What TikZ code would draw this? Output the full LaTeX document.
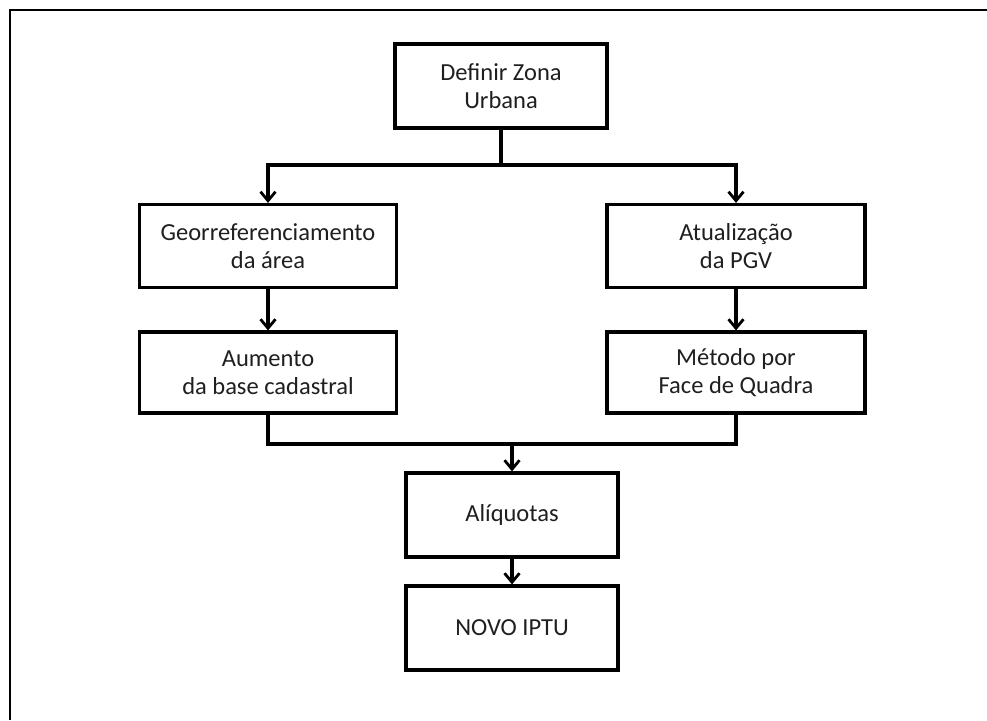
\documentclass[tikz,border=0pt]{standalone}
\usepackage{fontspec}
\setmainfont{Carlito}
\usetikzlibrary{arrows.meta}
\begin{document}
\begin{tikzpicture}[x=1pt,y=-1pt,
  box/.style={draw=black,line width=3.2pt,fill=white,align=center,inner sep=0pt,
    font=\fontsize{24.5}{28.5}\selectfont,text=black!88},
  conn/.style={line width=3.2pt,line cap=butt},
  arr/.style={conn,-{Straight Barb[length=9pt,width=15pt,line width=2.8pt]}}]
\useasboundingbox (0,0) rectangle (987,720);
\draw[line width=2.2pt] (10,720) -- (10,10) -- (987,10);
\node[box,minimum width=212pt,minimum height=84pt] (def) at (501,86) {Definir Zona\\Urbana};
\node[box,minimum width=257pt,minimum height=83pt] (geo) at (268,246) {Georreferenciamento\\da área};
\node[box,minimum width=258pt,minimum height=83pt] (atu) at (736,246) {Atualização\\da PGV};
\node[box,minimum width=257pt,minimum height=81pt] (aum) at (268,372.5) {Aumento\\da base cadastral};
\node[box,minimum width=258pt,minimum height=81pt] (met) at (736,372.5) {Método por\\Face de Quadra};
\node[box,minimum width=212pt,minimum height=84pt] (ali) at (512,515) {Alíquotas};
\node[box,minimum width=212pt,minimum height=84pt] (nov) at (512,628) {NOVO IPTU};
\coordinate (j1) at (501,165);
\coordinate (j2) at (512,444);
\draw[conn] (def.south) -- (j1);
\draw[arr] (j1) -| (geo.north);
\draw[arr] (j1) -| (atu.north);
\draw[arr] (geo.south) -- (aum.north);
\draw[arr] (atu.south) -- (met.north);
\draw[conn] (aum.south) |- (j2);
\draw[conn] (met.south) |- (j2);
\draw[arr] (j2) -- (ali.north);
\draw[arr] (ali.south) -- (nov.north);
\end{tikzpicture}
\end{document}
